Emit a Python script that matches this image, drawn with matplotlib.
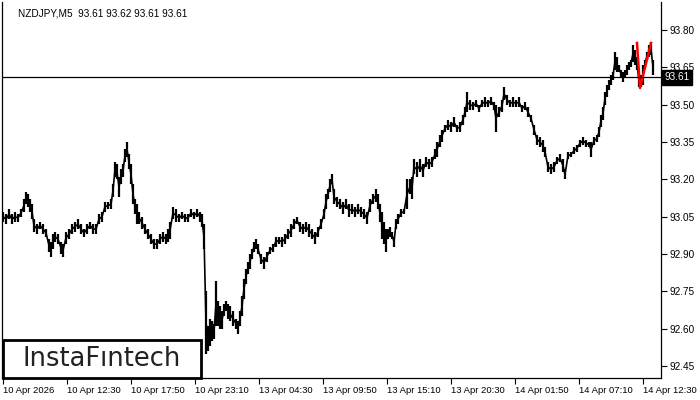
import matplotlib
matplotlib.use("Agg")
import matplotlib.pyplot as plt
from matplotlib.patches import Rectangle
from matplotlib import transforms

plt.rcParams['font.family'] = ['Liberation Sans', 'DejaVu Sans']

bars = [0, 3, 6, 9, 12, 15, 18, 21, 23, 25, 27, 29, 31, 34, 37, 40, 43, 46, 48, 50,
        52, 55, 58, 60, 63, 66, 69, 72, 75, 78, 81, 84, 87, 90, 93, 96, 99, 102, 105, 108,
        110, 112, 114, 116, 118, 120, 122, 124, 126, 128, 130, 132, 134, 136, 139, 142, 145, 148, 151, 154,
        157, 160, 163, 165, 167, 170, 173, 176, 179, 182, 185, 188, 191, 194, 197, 199, 201,
        203, 205, 207, 209, 211, 213, 215, 217, 219, 221, 223, 225, 227, 230, 233, 235, 237, 239,
        241, 243, 245, 247, 249, 251, 253, 255, 258, 261, 264, 267, 270, 273, 276, 279, 282, 285,
        288, 291, 294, 297, 300, 303, 306, 309, 312, 315, 318, 321, 323, 325, 327, 329, 331, 334,
        337, 340, 343, 346, 349, 352, 355, 358, 361, 364, 367, 370, 373, 375, 377, 379, 381, 383,
        385, 387, 389, 391, 393, 395, 398, 401, 404, 407, 409, 411, 414, 417, 420, 423, 426, 429,
        432, 434, 437, 439, 442, 445, 448, 451, 454, 457, 460, 462, 464, 467, 470, 473, 476, 479,
        482, 485, 488, 491, 493, 496, 499, 501, 504, 507, 510, 513, 516, 519, 522, 525, 528, 531,
        534, 537, 540, 542, 545, 548, 551, 554, 557, 560, 562, 565, 568, 571, 574, 577, 580, 583,
        586, 588, 591, 594, 596, 598, 600, 602, 604, 606, 608, 610, 612, 614, 616, 618, 620, 622,
        624, 626, 628, 630, 632, 634, 636, 638, 640, 642, 644, 646, 648, 650]
highs = [93.07, 93.06, 93.08, 93.06, 93.07, 93.06, 93.08, 93.12, 93.15, 93.14, 93.12, 93.10, 93.04, 93.02, 93.03, 93.02, 93.00, 92.96, 92.95, 92.98,
         92.99, 92.98, 92.95, 92.94, 92.99, 93.00, 93.02, 93.03, 93.04, 93.02, 93.00, 93.02, 93.03, 93.02, 93.02, 93.06, 93.07, 93.11, 93.11, 93.12,
         93.18, 93.27, 93.26, 93.21, 93.24, 93.26, 93.32, 93.35, 93.30, 93.26, 93.18, 93.12, 93.10, 93.07, 93.05, 93.02, 93.00, 92.98, 92.96, 92.96,
         92.98, 92.99, 92.98, 93.00, 93.03, 93.09, 93.08, 93.06, 93.07, 93.06, 93.06, 93.08, 93.07, 93.08, 93.07, 93.06, 93.02,
         92.75, 92.61, 92.64, 92.63, 92.62, 92.79, 92.71, 92.69, 92.67, 92.70, 92.71, 92.70, 92.69, 92.67, 92.64, 92.63, 92.67, 92.73,
         92.80, 92.84, 92.87, 92.90, 92.92, 92.95, 92.96, 92.94, 92.90, 92.89, 92.91, 92.93, 92.94, 92.97, 92.97, 92.97, 92.98, 93.00,
         93.02, 93.04, 93.05, 93.03, 93.02, 93.03, 93.02, 93.00, 92.99, 93.01, 93.04, 93.08, 93.14, 93.16, 93.20, 93.22, 93.16, 93.13,
         93.12, 93.11, 93.12, 93.10, 93.10, 93.09, 93.10, 93.09, 93.08, 93.07, 93.12, 93.14, 93.16, 93.14, 93.10, 93.07, 93.03, 93.00,
         93.00, 93.01, 92.99, 92.97, 93.04, 93.06, 93.08, 93.08, 93.20, 93.20, 93.21, 93.28, 93.27, 93.28, 93.26, 93.29, 93.28, 93.29,
         93.32, 93.35, 93.38, 93.40, 93.42, 93.44, 93.43, 93.45, 93.42, 93.43, 93.46, 93.49, 93.55, 93.52, 93.51, 93.52, 93.50, 93.52,
         93.53, 93.52, 93.53, 93.51, 93.50, 93.49, 93.52, 93.57, 93.54, 93.52, 93.53, 93.52, 93.53, 93.50, 93.51, 93.49, 93.46, 93.42,
         93.38, 93.37, 93.36, 93.33, 93.27, 93.26, 93.27, 93.29, 93.30, 93.28, 93.24, 93.31, 93.31, 93.33, 93.34, 93.36, 93.37, 93.36,
         93.35, 93.35, 93.37, 93.38, 93.41, 93.46, 93.49, 93.55, 93.58, 93.60, 93.62, 93.63, 93.71, 93.69, 93.66, 93.64, 93.63, 93.64,
         93.66, 93.67, 93.68, 93.74, 93.72, 93.69, 93.62, 93.62, 93.66, 93.68, 93.71, 93.74, 93.75, 93.68]
lows = [93.03, 93.02, 93.04, 93.02, 93.03, 93.03, 93.05, 93.07, 93.10, 93.09, 93.07, 93.04, 92.99, 92.98, 93.00, 92.98, 92.97, 92.91, 92.89, 92.92,
        92.95, 92.94, 92.90, 92.89, 92.94, 92.96, 92.98, 92.99, 93.00, 92.98, 92.97, 92.98, 93.00, 92.98, 92.98, 93.02, 93.03, 93.07, 93.08, 93.08,
        93.13, 93.21, 93.20, 93.13, 93.18, 93.21, 93.27, 93.29, 93.24, 93.18, 93.10, 93.06, 93.02, 93.02, 93.00, 92.98, 92.96, 92.94, 92.92, 92.92,
        92.94, 92.95, 92.94, 92.95, 92.96, 93.04, 93.03, 93.03, 93.04, 93.03, 93.03, 93.05, 93.04, 93.05, 93.03, 93.01, 92.92,
        92.50, 92.51, 92.53, 92.55, 92.56, 92.61, 92.61, 92.60, 92.60, 92.65, 92.67, 92.64, 92.63, 92.61, 92.60, 92.58, 92.61, 92.65,
        92.72, 92.78, 92.82, 92.84, 92.88, 92.91, 92.92, 92.90, 92.86, 92.84, 92.87, 92.90, 92.91, 92.93, 92.94, 92.93, 92.94, 92.96,
        92.97, 93.00, 93.02, 92.99, 92.98, 92.99, 92.97, 92.96, 92.94, 92.97, 93.00, 93.04, 93.08, 93.12, 93.15, 93.18, 93.10, 93.09,
        93.08, 93.06, 93.08, 93.05, 93.06, 93.05, 93.06, 93.05, 93.04, 93.02, 93.07, 93.10, 93.11, 93.08, 93.03, 92.96, 92.94, 92.91,
        92.96, 92.97, 92.96, 92.93, 93.00, 93.02, 93.05, 93.06, 93.08, 93.14, 93.12, 93.22, 93.21, 93.23, 93.21, 93.25, 93.24, 93.25,
        93.28, 93.29, 93.33, 93.35, 93.39, 93.40, 93.39, 93.41, 93.39, 93.39, 93.42, 93.45, 93.47, 93.48, 93.48, 93.49, 93.47, 93.49,
        93.49, 93.49, 93.50, 93.48, 93.39, 93.45, 93.47, 93.52, 93.50, 93.49, 93.49, 93.49, 93.49, 93.47, 93.48, 93.45, 93.43, 93.38,
        93.34, 93.33, 93.31, 93.29, 93.23, 93.22, 93.23, 93.26, 93.27, 93.23, 93.20, 93.28, 93.29, 93.30, 93.31, 93.33, 93.34, 93.33,
        93.33, 93.29, 93.34, 93.35, 93.37, 93.41, 93.44, 93.50, 93.53, 93.56, 93.58, 93.60, 93.64, 93.63, 93.63, 93.61, 93.59, 93.61,
        93.62, 93.64, 93.65, 93.67, 93.66, 93.64, 93.57, 93.57, 93.58, 93.65, 93.68, 93.69, 93.70, 93.62]

last_price = 93.61
# red pattern marker
pattern_x = [634, 637, 648]
pattern_y = [93.748, 93.567, 93.748]

yticks = [92.45, 92.60, 92.75, 92.90, 93.05, 93.20, 93.35, 93.50, 93.65, 93.80]
xtick_pos = [0, 64, 128, 192, 256, 320, 384, 448, 512, 576, 640]
xtick_labels = ["10 Apr 2026", "10 Apr 12:30", "10 Apr 17:50", "10 Apr 23:10", "13 Apr 04:30",
                "13 Apr 09:50", "13 Apr 15:10", "13 Apr 20:30", "14 Apr 01:50", "14 Apr 07:10",
                "14 Apr 12:30"]

fig = plt.figure(figsize=(7, 4), dpi=100)
ax = fig.add_axes([2 / 700, 22 / 400, 659 / 700, 376 / 400])

ax.vlines(bars, lows, highs, color="black", linewidth=1.6)
mids = [(h + l) / 2 for h, l in zip(highs, lows)]
ax.plot(bars, mids, color="black", linewidth=1.2)
ax.plot(pattern_x, pattern_y, color="red", linewidth=1.8)

ax.axhline(last_price, color="black", linewidth=0.9)

ax.set_xlim(-1, 658)
ax.set_ylim(92.402, 93.9125)

ax.yaxis.tick_right()
ax.set_yticks(yticks)
ax.set_yticklabels(["%.2f" % v for v in yticks])
ax.set_xticks(xtick_pos)
ax.set_xticklabels(xtick_labels, ha="left")
ax.tick_params(axis="both", direction="out", length=4, width=0.8, labelsize=6.8, pad=2, colors="black")
ax.tick_params(axis="y", labelsize=7.2)
ax.spines["top"].set_visible(False)
for s in ["left", "right", "bottom"]:
    ax.spines[s].set_linewidth(0.9)

# current price tag
trans = transforms.blended_transform_factory(ax.transAxes, ax.transData)
ax.text(1.005, last_price, "%.2f" % last_price, transform=trans, fontsize=7.2, color="white",
        va="center", ha="left", clip_on=False,
        bbox=dict(boxstyle="square,pad=0.25", facecolor="black", edgecolor="black"))

fig.text(18 / 700, 1 - 13 / 400, "NZDJPY,M5  93.61 93.62 93.61 93.61", fontsize=7.2, va="center", ha="left")

# logo box
fig.patches.append(Rectangle((3 / 700, 22 / 400), 198 / 700, 38 / 400, transform=fig.transFigure,
                             facecolor="white", edgecolor="black", linewidth=2, zorder=5))
fig.text(102 / 700, 1 - 359 / 400, "InstaF\u0131ntech", fontsize=18.5, color="#222222",
         family="DejaVu Sans", ha="center", va="center", zorder=6)

fig.savefig("out.png", dpi=100)
